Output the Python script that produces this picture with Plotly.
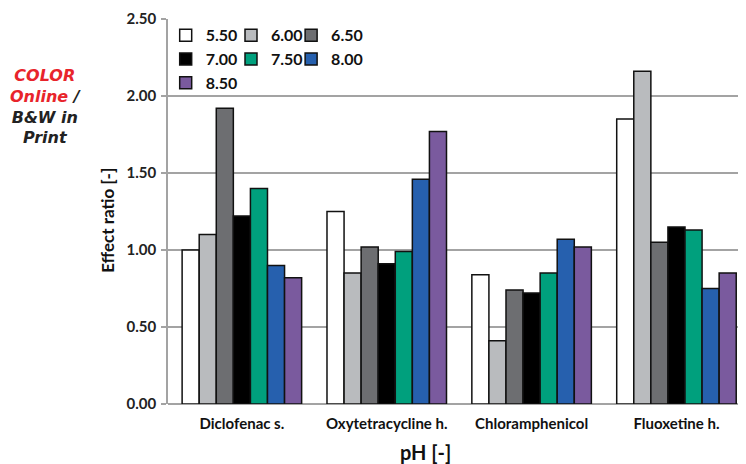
import plotly.graph_objects as go

categories = ["Diclofenac s.", "Oxytetracycline h.", "Chloramphenicol", "Fluoxetine h."]
ph_labels = ["5.50", "6.00", "6.50", "7.00", "7.50", "8.00", "8.50"]
values_550 = [1.00, 1.25, 0.84, 1.85]
values_600 = [1.10, 0.85, 0.41, 2.16]
values_650 = [1.92, 1.02, 0.74, 1.05]
values_700 = [1.22, 0.91, 0.72, 1.15]
values_750 = [1.40, 0.99, 0.85, 1.13]
values_800 = [0.90, 1.46, 1.07, 0.75]
values_850 = [0.82, 1.77, 1.02, 0.85]
series = [values_550, values_600, values_650, values_700, values_750, values_800, values_850]
colors = ["#ffffff", "#b9bbbe", "#6d6e71", "#000000", "#00a07d", "#2660ae", "#7a5a9e"]
# legend columns (entries read row by row across three columns)
legend_ids = ["legend", "legend2", "legend3", "legend", "legend2", "legend3", "legend"]

FONT = "Lato"
fig = go.Figure()
for name, vals, col, lg in zip(ph_labels, series, colors, legend_ids):
    fig.add_trace(go.Bar(
        x=categories, y=vals, name=name, legend=lg, legendgroup=name,
        marker=dict(color=col, line=dict(color="#111111", width=1.5)),
    ))

legend_common = dict(
    orientation="v", bgcolor="rgba(0,0,0,0)", borderwidth=0,
    font=dict(family=FONT, size=16, color="#111111", weight="bold"),
    itemwidth=30, traceorder="normal", xanchor="left", yanchor="top",
    tracegroupgap=3, itemclick=False,
)
LEG_Y = 1.002
fig.update_layout(
    width=738, height=456,
    margin=dict(l=160, r=0, t=11, b=60),
    paper_bgcolor="white", plot_bgcolor="white",
    barmode="group", bargap=0.175, bargroupgap=0,
    font=dict(family=FONT, color="#222222"),
    legend=dict(x=-0.004, y=LEG_Y, **legend_common),
    legend2=dict(x=0.109, y=LEG_Y, **legend_common),
    legend3=dict(x=0.213, y=LEG_Y, **legend_common),
    xaxis=dict(
        range=[-0.51, 3.48], showgrid=False, showline=False, ticks="", automargin=False,
        ticklabelstandoff=9,
        tickfont=dict(family=FONT, size=15, color="#111111", weight="bold"),
    ),
    yaxis=dict(
        range=[0, 2.5], dtick=0.5, tickformat=".2f", automargin=False,
        showgrid=True, gridcolor="#a3a3a3", gridwidth=1.5,
        zeroline=True, zerolinecolor="#a3a3a3", zerolinewidth=1.5,
        showline=True, linecolor="#a3a3a3", linewidth=1.5,
        ticks="outside", ticklen=5, tickcolor="#a3a3a3", tickwidth=1.5,
        ticklabelstandoff=2,
        tickfont=dict(family=FONT, size=15, color="#222222", weight="bold"),
    ),
)
# axis titles
fig.add_annotation(
    xref="paper", yref="paper", x=-0.104, y=0.478, xanchor="center", yanchor="middle",
    showarrow=False, text="<b>Effect ratio [-]</b>", textangle=-90,
    font=dict(family=FONT, size=17, color="#111111"),
)
fig.add_annotation(
    xref="paper", yref="paper", x=0.446, y=-0.125, xanchor="center", yanchor="middle",
    showarrow=False, text="<b>pH [-]</b>",
    font=dict(family=FONT, size=20, color="#111111"),
)
# side note
fig.add_annotation(
    xref="paper", yref="paper", x=-0.2128, y=0.774, xanchor="center", yanchor="middle",
    showarrow=False, align="center",
    text=("<b><i><span style='color:#e8242b'>COLOR</span><br>"
          "<span style='color:#e8242b'>Online</span> /<br>B&amp;W in<br>Print</i></b>"),
    font=dict(family="DejaVu Sans", size=16, color="#222222"),
)
fig.write_html("out.html")
